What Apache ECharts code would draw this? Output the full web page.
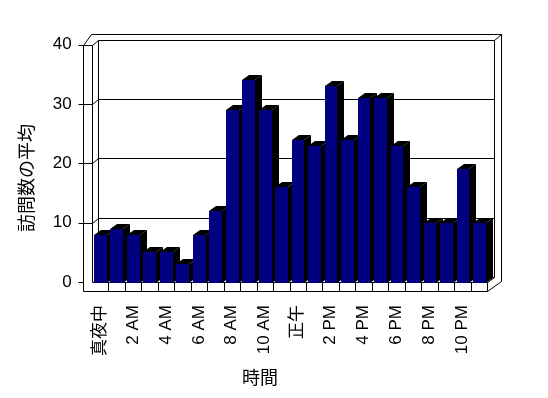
<!DOCTYPE html>
<html lang="ja">
<head>
<meta charset="utf-8" />
<script src="https://cdn.jsdelivr.net/npm/echarts@6/dist/echarts.min.js"></script>
<style>
  html, body { margin: 0; background: #fff; }
  #chart { width: 548px; height: 398px; }
</style>
<title>時間帯別の訪問数</title>
</head>
<body>
<div id="chart"></div>
<script>
var hours = ['真夜中', '1 AM', '2 AM', '3 AM', '4 AM', '5 AM', '6 AM', '7 AM', '8 AM', '9 AM', '10 AM', '11 AM',
             '正午', '1 PM', '2 PM', '3 PM', '4 PM', '5 PM', '6 PM', '7 PM', '8 PM', '9 PM', '10 PM', '11 PM'];
var visits = [8, 9, 8, 5, 5, 3, 8, 12, 29, 34, 29, 16, 24, 23, 33, 24, 31, 31, 23, 16, 10, 10, 19, 10];
var yTicks = [0, 10, 20, 30, 40];
var yTitle = '訪問数の平均';
var xTitle = '時間';

var FONT = '"Liberation Sans", "Noto Sans CJK JP", sans-serif';
// 奥行き (床と棒)
var DX = 6.5, DY = -5.2;
var WALL = 8.4, FLOOR = 9.4, BACK = 7.5;

function px(v) { return Math.round(v) + 0.5; }

function renderFrame(params, api) {
  var w = api.size([1, 0])[0];
  var L = api.coord([0, 0])[0] - w / 2;
  var R = L + w * hours.length;
  var Y0 = api.coord([0, 0])[1];
  var YT = api.coord([0, yTicks[yTicks.length - 1]])[1];
  var st = { stroke: '#000', lineWidth: 1, fill: null };
  var kids = [];
  function ln(x1, y1, x2, y2) {
    kids.push({ type: 'line', shape: { x1: px(x1), y1: px(y1), x2: px(x2), y2: px(y2) }, style: st });
  }
  // 外枠
  kids.push({
    type: 'polygon',
    shape: { points: [[px(L - WALL), px(Y0 + FLOOR)], [px(L - WALL), px(YT)], [px(L - WALL + DX + 1), px(YT + DY - 5.5)],
                      [px(R + DX + BACK), px(YT + DY - 5.5)], [px(R + DX + BACK), px(Y0 + FLOOR - 10.5)], [px(R), px(Y0 + FLOOR)]] },
    style: { fill: '#fff', stroke: '#000', lineWidth: 1 }
  });
  // 後ろの壁
  kids.push({
    type: 'rect',
    shape: { x: px(L + DX), y: px(YT + DY), width: Math.round(R - L), height: Math.round(Y0 - YT) },
    style: { fill: '#fff', stroke: '#000', lineWidth: 1 }
  });
  ln(R + DX, YT + DY, R + DX + BACK, YT + DY - 5.5);
  // 左の壁
  ln(L, YT, L, Y0);
  ln(L - WALL, YT, L, YT);
  ln(L, YT, L + DX, YT + DY);
  // 床
  ln(L, Y0, R, Y0);
  ln(R, Y0, R + DX, Y0 + DY);
  for (var i = 1; i <= hours.length; i++) {
    ln(L + i * w, Y0, L + i * w, Y0 + FLOOR);
  }
  // 目盛線
  yTicks.forEach(function (v) {
    var y = api.coord([0, v])[1];
    ln(L - WALL - 5, y, L - WALL, y);
    if (v > yTicks[0] && v < yTicks[yTicks.length - 1]) {
      ln(L - WALL, y, L, y);
      ln(L, y, L + DX, y + DY);
      ln(L + DX, y + DY, R + DX, y + DY);
    }
  });
  return { type: 'group', children: kids };
}

function renderBar(params, api) {
  var w = api.size([1, 0])[0];
  var c = api.coord([api.value(0), api.value(1)]);
  var base = api.coord([api.value(0), 0]);
  var xl = Math.round(c[0] - w / 2 + w * 0.14);
  var xr = Math.round(c[0] - w / 2 + w * 0.91);
  var yt = Math.round(c[1]), yb = Math.round(base[1]) + 1;
  var dx = Math.round(DX), dy = Math.round(DY);
  return {
    type: 'group',
    children: [
      { type: 'polygon', shape: { points: [[xr, yt], [xr + dx, yt + dy], [xr + dx, yb + dy], [xr, yb]] }, style: { fill: '#000' } },
      { type: 'polygon', shape: { points: [[xl, yt], [xl + dx, yt + dy], [xr + dx, yt + dy], [xr, yt]] }, style: { fill: '#000' } },
      { type: 'rect', shape: { x: xl, y: yt, width: xr - xl, height: yb - yt }, style: { fill: '#000080' } }
    ]
  };
}

var chart = echarts.init(document.getElementById('chart'));
chart.setOption({
  animation: false,
  backgroundColor: '#fff',
  grid: { left: 91.7, right: 60.7, top: 44.8, bottom: 116 },
  xAxis: {
    type: 'category',
    data: hours,
    axisLine: { show: false },
    axisTick: { show: false },
    axisLabel: { interval: 1, rotate: 90, margin: 23, fontSize: 17, color: '#000', fontFamily: FONT }
  },
  yAxis: {
    type: 'value',
    min: 0,
    max: 40,
    interval: 10,
    axisLine: { show: false },
    axisTick: { show: false },
    splitLine: { show: false },
    axisLabel: { margin: 20, fontSize: 17, color: '#000', fontFamily: FONT }
  },
  graphic: [
    { type: 'text', x: 28, y: 178, rotation: Math.PI / 2,
      style: { text: yTitle, fontSize: 18, fontFamily: FONT, fill: '#000', align: 'center', verticalAlign: 'middle' } },
    { type: 'text', x: 260, y: 379,
      style: { text: xTitle, fontSize: 18, fontFamily: FONT, fill: '#000', align: 'center', verticalAlign: 'middle' } }
  ],
  series: [
    { type: 'custom', name: 'frame', data: [[0, 0]], renderItem: renderFrame, silent: true, z: 1 },
    { type: 'custom', name: '訪問数', data: visits.map(function (v, i) { return [i, v]; }), renderItem: renderBar, z: 2 }
  ]
});
</script>
</body>
</html>
